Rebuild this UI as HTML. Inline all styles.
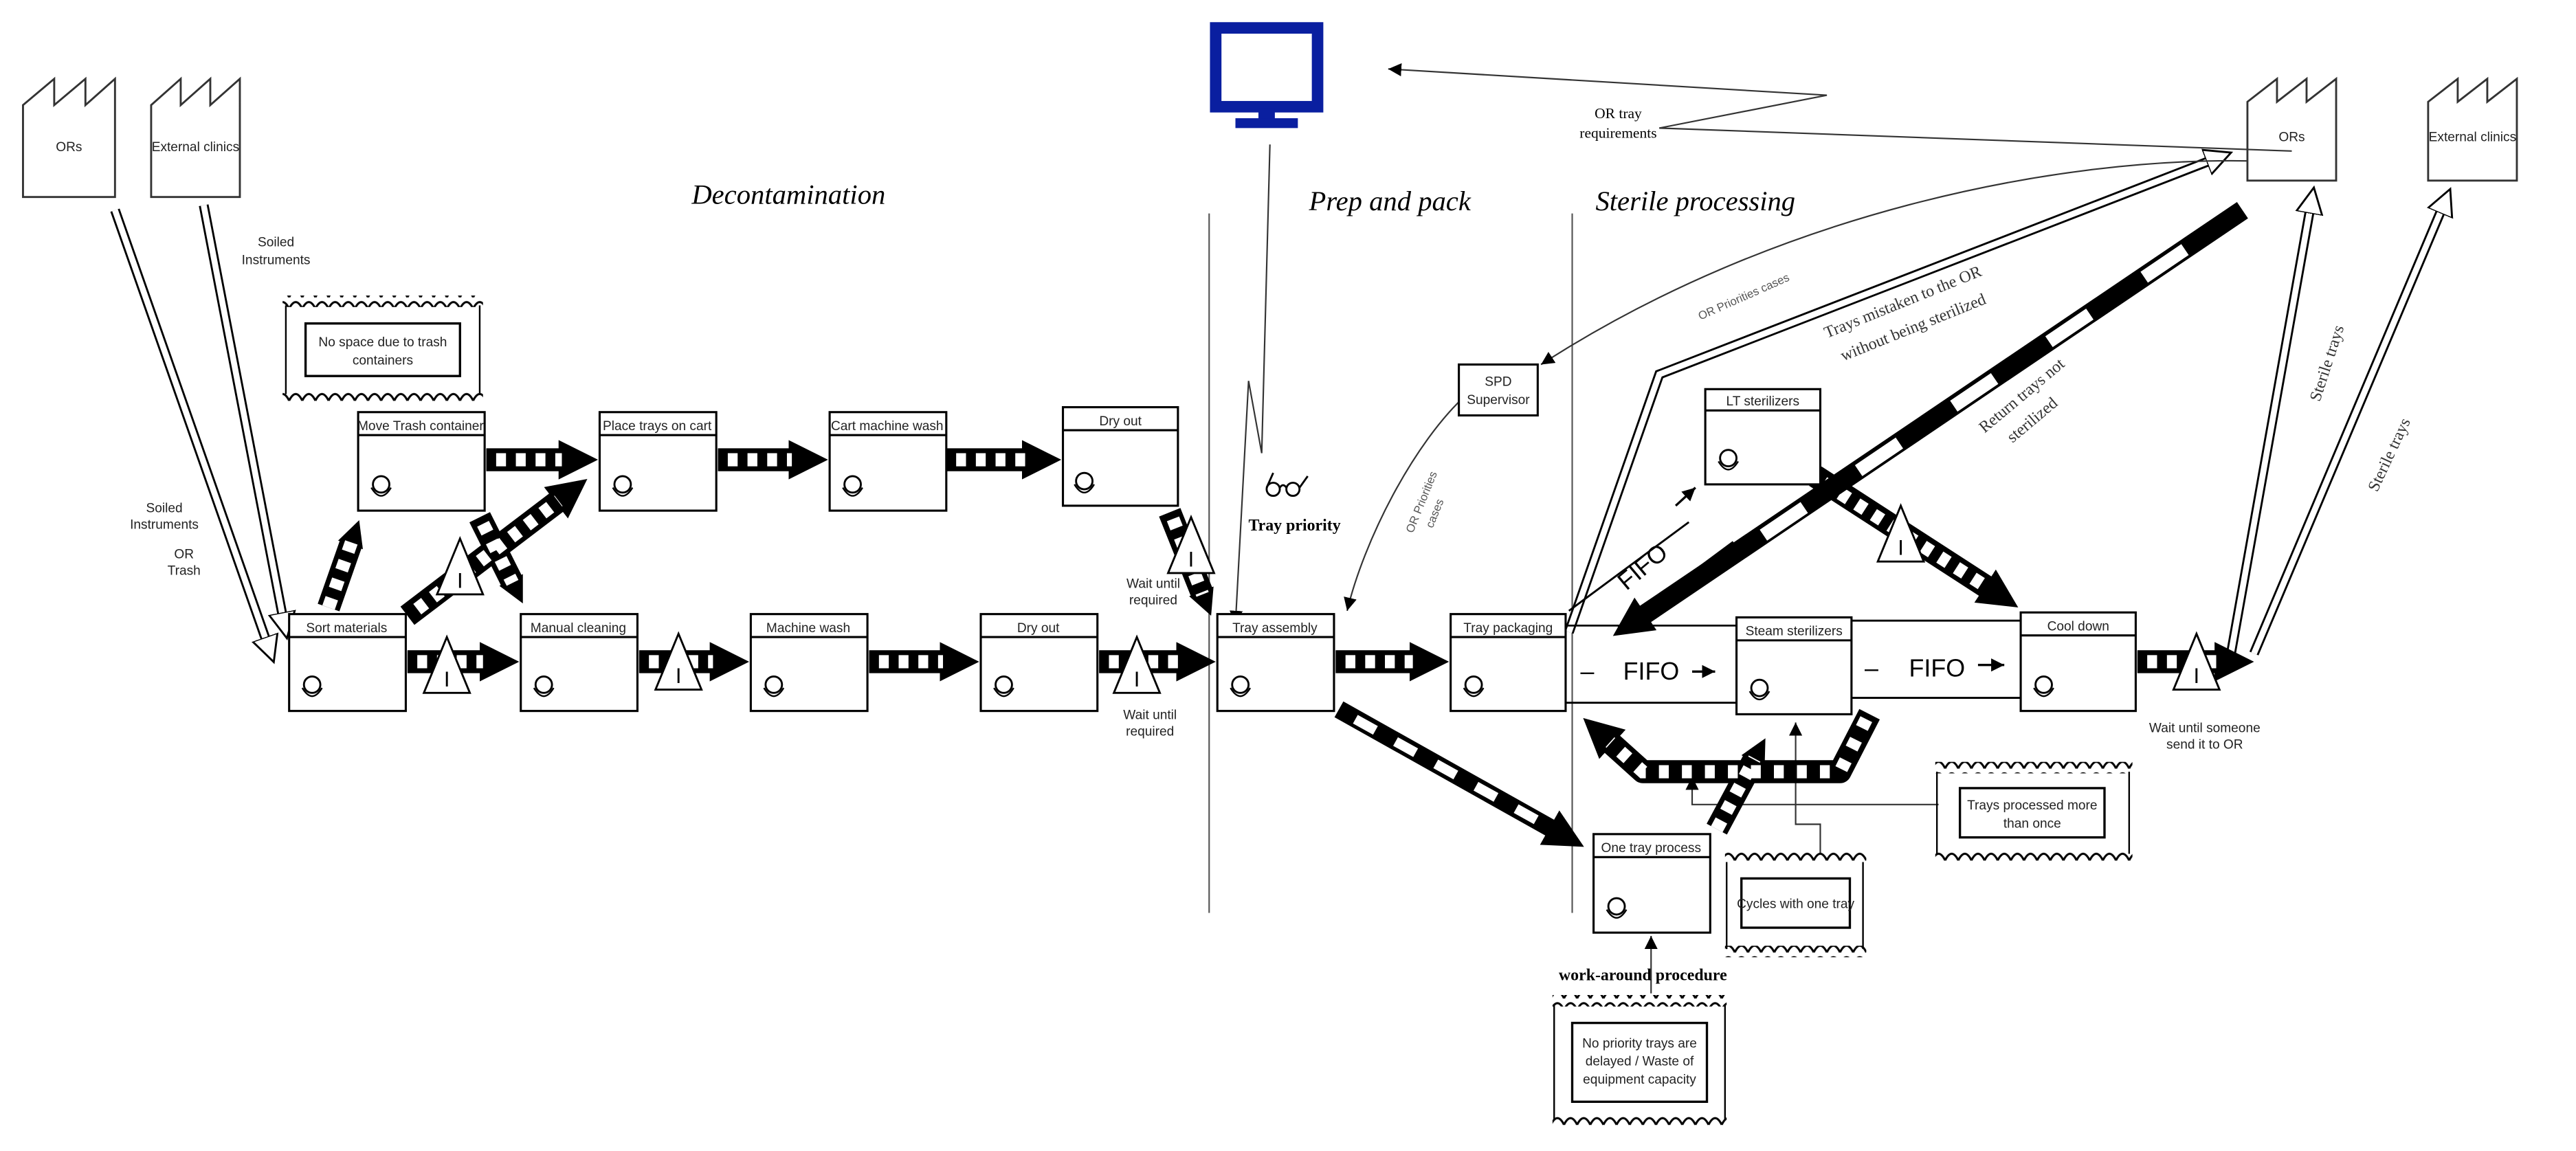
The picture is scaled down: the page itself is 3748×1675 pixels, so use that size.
<!DOCTYPE html>
<html><head><meta charset="utf-8"><style>
html,body{margin:0;padding:0;background:#fff;}
svg{display:block;}
text{font-family:"Liberation Sans",sans-serif;}
.t{font-size:8px;text-anchor:middle;fill:#222;}
.s{font-family:"Liberation Serif",serif;}
</style></head><body>
<svg width="3748" height="1675" viewBox="0 0 1568 701" preserveAspectRatio="none" xmlns="http://www.w3.org/2000/svg">
<defs>
<marker id="h" markerUnits="userSpaceOnUse" markerWidth="30" markerHeight="30" refX="2" refY="12" orient="auto"><path d="M0,0 L24,12 L0,24 Z" fill="#000"/></marker>
<marker id="hs" markerUnits="userSpaceOnUse" markerWidth="20" markerHeight="20" refX="2" refY="8" orient="auto"><path d="M0,0 L16,8 L0,16 Z" fill="#000"/></marker>
<marker id="ht" markerUnits="userSpaceOnUse" markerWidth="12" markerHeight="12" refX="8" refY="4" orient="auto"><path d="M0,0 L8,4 L0,8 Z" fill="#000"/></marker>
<marker id="hh" markerUnits="userSpaceOnUse" markerWidth="24" markerHeight="24" refX="2" refY="9" orient="auto"><path d="M0,1 L16,9 L0,17 Z" fill="#fff" stroke="#000" stroke-width="1.2"/></marker>
<pattern id="wv" width="8" height="7" patternUnits="userSpaceOnUse"><path d="M0,6 Q4,-2 8,6" fill="none" stroke="#000" stroke-width="1.3"/></pattern>
<pattern id="wv2" width="8" height="7" patternUnits="userSpaceOnUse"><path d="M0,1 Q4,9 8,1" fill="none" stroke="#000" stroke-width="1.3"/></pattern>
</defs>

<!-- factories -->
<g fill="#fff" stroke="#333" stroke-width="1.2">
<path d="M14,120 V64 L33,48 V64 L52,48 V64 L70,48 V120 Z"/>
<path d="M92,120 V64 L110,48 V64 L128,48 V64 L146,48 V120 Z"/>
<path d="M1368,110 V62 L1386,48 V62 L1404,48 V62 L1422,48 V110 Z"/>
<path d="M1478,110 V62 L1496,48 V62 L1514,48 V62 L1532,48 V110 Z"/>
</g>
<text class="t" x="42" y="92" font-size="7">ORs</text>
<text class="t" x="119" y="92" font-size="7">External clinics</text>
<text class="t" x="1395" y="86" font-size="7">ORs</text>
<text class="t" x="1505" y="86" font-size="7">External clinics</text>

<!-- monitor -->
<rect x="740" y="17" width="62" height="48" fill="none" stroke="#0a1fa0" stroke-width="7"/>
<rect x="766" y="66" width="10" height="8" fill="#0a1fa0"/>
<rect x="752" y="72" width="38" height="6" fill="#0a1fa0"/>

<!-- section labels -->
<text class="s" x="480" y="124" font-size="17" font-style="italic" text-anchor="middle">Decontamination</text>
<text class="s" x="846" y="128" font-size="17" font-style="italic" text-anchor="middle">Prep and pack</text>
<text class="s" x="1032" y="128" font-size="17" font-style="italic" text-anchor="middle">Sterile processing</text>
<line x1="736" y1="130" x2="736" y2="556" stroke="#555" stroke-width="0.9"/>
<line x1="957" y1="130" x2="957" y2="556" stroke="#555" stroke-width="0.9"/>

<!-- hollow arrows -->
<g fill="none" stroke-linecap="butt">
<g stroke="#000" stroke-width="6"><line x1="70" y1="128" x2="162" y2="390"/><line x1="124" y1="125" x2="172" y2="375"/>
<polyline points="955,385 1010,228 1345,98"/><line x1="1358" y1="398" x2="1406" y2="128"/><line x1="1372" y1="398" x2="1486" y2="128"/></g>
<g stroke="#fff" stroke-width="3.6"><line x1="70" y1="128" x2="162" y2="390" marker-end="url(#hh)"/><line x1="124" y1="125" x2="172" y2="375" marker-end="url(#hh)"/>
<polyline points="955,385 1010,228 1345,98" marker-end="url(#hh)"/><line x1="1358" y1="398" x2="1406" y2="128" marker-end="url(#hh)"/><line x1="1372" y1="398" x2="1486" y2="128" marker-end="url(#hh)"/></g>
</g>

<!-- thin info lines -->
<g fill="none" stroke="#333" stroke-width="0.9">
<polyline points="1395,92 1010,78 1112,58 845,42" marker-end="url(#ht)"/>
<polyline points="773,88 768,276 760,232 752,380" marker-end="url(#ht)"/>
<path d="M1368,98 C1250,96 1080,130 938,222" marker-end="url(#ht)"/>
<path d="M893,240 C860,270 830,330 820,372" marker-end="url(#ht)"/>
<polyline points="1180,490 1030,490 1030,473" marker-end="url(#ht)"/>
<polyline points="1108,520 1108,502 1093,502 1093,440" marker-end="url(#ht)"/>
<line x1="1005" y1="605" x2="1005" y2="570" marker-end="url(#ht)"/>
</g>
<text class="s" x="985" y="72" font-size="9" text-anchor="middle">OR tray</text>
<text class="s" x="985" y="84" font-size="9" text-anchor="middle">requirements</text>
<text x="1035" y="195" font-size="7" fill="#555" transform="rotate(-24 1035 195)">OR Priorities cases</text>
<text x="860" y="325" font-size="7" fill="#555" transform="rotate(-68 860 325)">OR Priorities</text>
<text x="872" y="322" font-size="7" fill="#555" transform="rotate(-68 872 322)">cases</text>
<text class="s" x="1112" y="206" font-size="10" fill="#333" transform="rotate(-22 1112 206)">Trays mistaken to the OR</text>
<text class="s" x="1122" y="220" font-size="10" fill="#333" transform="rotate(-22 1122 220)">without being sterilized</text>
<text class="s" x="1208" y="264" font-size="10" fill="#333" transform="rotate(-40 1208 264)">Return trays not</text>
<text class="s" x="1225" y="270" font-size="10" fill="#333" transform="rotate(-40 1225 270)">sterilized</text>
<text class="s" x="1412" y="245" font-size="10" fill="#333" transform="rotate(-72 1412 245)">Sterile trays</text>
<text class="s" x="1447" y="300" font-size="10" fill="#333" transform="rotate(-65 1447 300)">Sterile trays</text>

<!-- glasses -->
<g fill="none" stroke="#000" stroke-width="1.2"><circle cx="775" cy="298" r="4"/><circle cx="787" cy="298" r="4"/><path d="M779,297 Q781,294 783,297 M771,297 L775,288 M791,297 L796,290"/></g>
<text class="s" x="788" y="323" font-size="10" font-weight="bold" text-anchor="middle">Tray priority</text>

<text class="t" x="168" y="150" font-size="7">Soiled</text>
<text class="t" x="168" y="161" font-size="7">Instruments</text>
<text class="t" x="100" y="312" font-size="7">Soiled</text>
<text class="t" x="100" y="322" font-size="7">Instruments</text>
<text class="t" x="112" y="340" font-size="7">OR</text>
<text class="t" x="112" y="350" font-size="7">Trash</text>
<text class="t" x="702" y="358" font-size="7">Wait until</text>
<text class="t" x="702" y="368" font-size="7">required</text>
<text class="t" x="700" y="438" font-size="7">Wait until</text>
<text class="t" x="700" y="448" font-size="7">required</text>
<text class="t" x="1342" y="446" font-size="7">Wait until someone</text>
<text class="t" x="1342" y="456" font-size="7">send it to OR</text>
<text class="s" x="1000" y="597" font-size="10" font-weight="bold" text-anchor="middle">work-around procedure</text>

<!-- push arrows (striped) -->
<g fill="none">
<g stroke="#000" stroke-width="14">
<line x1="296" y1="280" x2="342" y2="280" marker-end="url(#h)"/><line x1="437" y1="280" x2="482" y2="280" marker-end="url(#h)"/><line x1="576" y1="280" x2="624" y2="280" marker-end="url(#h)"/>
<line x1="248" y1="403" x2="294" y2="403" marker-end="url(#h)"/><line x1="389" y1="403" x2="434" y2="403" marker-end="url(#h)"/><line x1="529" y1="403" x2="574" y2="403" marker-end="url(#h)"/><line x1="669" y1="403" x2="718" y2="403" marker-end="url(#h)"/><line x1="813" y1="403" x2="860" y2="403" marker-end="url(#h)"/>
<line x1="1301" y1="403" x2="1350" y2="403" marker-end="url(#h)"/>
<line x1="200" y1="370" x2="214" y2="330" marker-end="url(#hs)"/>
<line x1="248" y1="375" x2="340" y2="305" marker-end="url(#h)"/>
<line x1="292" y1="315" x2="312" y2="355" marker-end="url(#hs)"/>
<line x1="712" y1="312" x2="732" y2="362" marker-end="url(#hs)"/>
<line x1="1105" y1="290" x2="1210" y2="358" marker-end="url(#h)"/>
<line x1="1045" y1="505" x2="1068" y2="462" marker-end="url(#hs)"/>
<polyline points="1138,435 1120,470 1000,470 980,452" stroke-linejoin="round" marker-end="url(#h)"/>
</g>
<g stroke="#fff" stroke-width="8" stroke-dasharray="6 6">
<line x1="302" y1="280" x2="342" y2="280"/><line x1="443" y1="280" x2="482" y2="280"/><line x1="582" y1="280" x2="624" y2="280"/>
<line x1="254" y1="403" x2="294" y2="403"/><line x1="395" y1="403" x2="434" y2="403"/><line x1="535" y1="403" x2="574" y2="403"/><line x1="675" y1="403" x2="718" y2="403"/><line x1="819" y1="403" x2="860" y2="403"/>
<line x1="1307" y1="403" x2="1350" y2="403"/>
<line x1="200" y1="370" x2="214" y2="330"/><line x1="254" y1="371" x2="340" y2="305"/><line x1="294" y1="319" x2="312" y2="355"/><line x1="714" y1="316" x2="732" y2="362"/>
<line x1="1110" y1="294" x2="1210" y2="358"/><line x1="1045" y1="505" x2="1068" y2="462"/>
<polyline points="1136,438 1120,470 1000,470 980,452" stroke-dasharray="6 8"/>
</g>
<!-- long black/white arrows -->
<line x1="1365" y1="128" x2="1000" y2="375" stroke="#000" stroke-width="12" marker-end="url(#h)"/>
<line x1="1330" y1="152" x2="1060" y2="335" stroke="#fff" stroke-width="8" stroke-dasharray="30 40"/>
<line x1="815" y1="432" x2="945" y2="505" stroke="#000" stroke-width="11" marker-end="url(#h)"/>
<line x1="825" y1="438" x2="940" y2="502" stroke="#fff" stroke-width="6" stroke-dasharray="14 14"/>
</g>

<!-- inventory triangles -->
<g fill="#fff" stroke="#000" stroke-width="1.2">
<path d="M272,388 L258,422 L286,422 Z"/><path d="M413,386 L399,420 L427,420 Z"/><path d="M692,388 L678,422 L706,422 Z"/>
<path d="M280,328 L266,362 L294,362 Z"/><path d="M725,315 L711,349 L739,349 Z"/><path d="M1157,308 L1143,342 L1171,342 Z"/>
<path d="M1337,386 L1323,420 L1351,420 Z"/>
</g>
<g class="s" font-size="13" text-anchor="middle">
<text x="272" y="418">I</text><text x="413" y="416">I</text><text x="692" y="418">I</text><text x="280" y="358">I</text><text x="725" y="345">I</text><text x="1157" y="338">I</text><text x="1337" y="416">I</text>
</g>

<!-- FIFO lanes -->
<g stroke="#000" stroke-width="1.2">
<line x1="953" y1="381" x2="1057" y2="381"/><line x1="953" y1="428" x2="1057" y2="428"/>
<line x1="1127" y1="378" x2="1230" y2="378"/><line x1="1127" y1="425" x2="1230" y2="425"/>
<line x1="955" y1="372" x2="1028" y2="318"/><line x1="985" y1="382" x2="1055" y2="330"/>
</g>
<g font-size="15" fill="#000">
<text x="962" y="414">–</text><text x="988" y="414">FIFO</text>
<text x="1135" y="412">–</text><text x="1162" y="412">FIFO</text>
<text x="990" y="360" transform="rotate(-40 990 360)">FIFO</text>
</g>
<g stroke="#000" stroke-width="1.4" fill="none"><line x1="1030" y1="409" x2="1044" y2="409" marker-end="url(#ht)"/><line x1="1204" y1="405" x2="1220" y2="405" marker-end="url(#ht)"/><line x1="1020" y1="308" x2="1032" y2="297" marker-end="url(#ht)"/></g>

<!-- process boxes -->
<g fill="#fff" stroke="#000" stroke-width="1.3">
<rect x="218" y="251" width="77" height="60"/><rect x="365" y="251" width="71" height="60"/><rect x="505" y="251" width="71" height="60"/><rect x="647" y="248" width="70" height="60"/>
<rect x="176" y="374" width="71" height="59"/><rect x="317" y="374" width="71" height="59"/><rect x="457" y="374" width="71" height="59"/><rect x="597" y="374" width="71" height="59"/>
<rect x="741" y="374" width="71" height="59"/><rect x="883" y="374" width="70" height="59"/><rect x="1057" y="376" width="70" height="59"/><rect x="1230" y="373" width="70" height="60"/>
<rect x="1038" y="237" width="70" height="58"/><rect x="970" y="508" width="71" height="60"/>
<rect x="888" y="222" width="48" height="31"/>
</g>
<g stroke="#000" stroke-width="1.3">
<line x1="218" y1="265" x2="295" y2="265"/><line x1="365" y1="265" x2="436" y2="265"/><line x1="505" y1="265" x2="576" y2="265"/><line x1="647" y1="262" x2="717" y2="262"/>
<line x1="176" y1="388" x2="247" y2="388"/><line x1="317" y1="388" x2="388" y2="388"/><line x1="457" y1="388" x2="528" y2="388"/><line x1="597" y1="388" x2="668" y2="388"/>
<line x1="741" y1="388" x2="812" y2="388"/><line x1="883" y1="388" x2="953" y2="388"/><line x1="1057" y1="390" x2="1127" y2="390"/><line x1="1230" y1="387" x2="1300" y2="387"/>
<line x1="1038" y1="250" x2="1108" y2="250"/><line x1="970" y1="522" x2="1041" y2="522"/>
</g>
<g class="t" font-size="7.5">
<text x="256" y="262">Move Trash container</text><text x="400" y="262">Place trays on cart</text><text x="540" y="262">Cart machine wash</text><text x="682" y="259">Dry out</text>
<text x="211" y="385">Sort materials</text><text x="352" y="385">Manual cleaning</text><text x="492" y="385">Machine wash</text><text x="632" y="385">Dry out</text>
<text x="776" y="385">Tray assembly</text><text x="918" y="385">Tray packaging</text><text x="1092" y="387">Steam sterilizers</text><text x="1265" y="384">Cool down</text>
<text x="1073" y="247">LT sterilizers</text><text x="1005" y="519">One tray process</text>
<text x="912" y="235">SPD</text><text x="912" y="246">Supervisor</text>
</g>
<g fill="none" stroke="#000" stroke-width="1.2">
<circle cx="232" cy="295" r="5"/><circle cx="379" cy="295" r="5"/><circle cx="519" cy="295" r="5"/><circle cx="660" cy="293" r="5"/>
<circle cx="190" cy="417" r="5"/><circle cx="331" cy="417" r="5"/><circle cx="471" cy="417" r="5"/><circle cx="611" cy="417" r="5"/>
<circle cx="755" cy="417" r="5"/><circle cx="897" cy="417" r="5"/><circle cx="1071" cy="419" r="5"/><circle cx="1244" cy="417" r="5"/>
<circle cx="1052" cy="279" r="5"/><circle cx="984" cy="552" r="5"/>
</g>
<g fill="none" stroke="#000" stroke-width="1">
<path d="M226,297 Q232,307 238,297"/><path d="M373,297 Q379,307 385,297"/><path d="M513,297 Q519,307 525,297"/><path d="M654,295 Q660,305 666,295"/>
<path d="M184,419 Q190,429 196,419"/><path d="M325,419 Q331,429 337,419"/><path d="M465,419 Q471,429 477,419"/><path d="M605,419 Q611,429 617,419"/>
<path d="M749,419 Q755,429 761,419"/><path d="M891,419 Q897,429 903,419"/><path d="M1065,421 Q1071,431 1077,421"/><path d="M1238,419 Q1244,429 1250,419"/>
<path d="M1046,281 Q1052,291 1058,281"/><path d="M978,554 Q984,564 990,554"/>
</g>

<!-- kaizen bursts -->
<g fill="#fff" stroke="#000" stroke-width="1">
<rect x="173" y="186" width="120" height="56" stroke="none"/>
<line x1="174" y1="186" x2="174" y2="240"/><line x1="292" y1="186" x2="292" y2="240"/>
<rect x="186" y="197" width="94" height="32" stroke-width="1.4"/>
<line x1="1179" y1="470" x2="1179" y2="520"/><line x1="1296" y1="470" x2="1296" y2="520"/>
<rect x="1193" y="480" width="88" height="30" stroke-width="1.4"/>
<line x1="1051" y1="525" x2="1051" y2="578"/><line x1="1134" y1="525" x2="1134" y2="578"/>
<rect x="1060" y="535" width="66" height="30" stroke-width="1.4"/>
<line x1="946" y1="612" x2="946" y2="682"/><line x1="1050" y1="612" x2="1050" y2="682"/>
<rect x="957" y="623" width="82" height="48" stroke-width="1.4"/>
</g>
<g fill="url(#wv)">
<rect x="172" y="180" width="122" height="7"/>
<rect x="1178" y="464" width="120" height="7"/>
<rect x="1050" y="519" width="86" height="7"/>
<rect x="945" y="606" width="106" height="7"/>
</g>
<g fill="url(#wv)">
<rect x="172" y="238" width="122" height="7"/>
<rect x="1178" y="518" width="120" height="7"/>
<rect x="1050" y="576" width="86" height="7"/>
<rect x="945" y="680" width="106" height="7"/>
</g>
<g class="t" font-size="7.5">
<text x="233" y="211">No space due to trash</text><text x="233" y="222">containers</text>
<text x="1237" y="493">Trays processed more</text><text x="1237" y="504">than once</text>
<text x="1093" y="553">Cycles with one tray</text>
<text x="998" y="638">No priority trays are</text><text x="998" y="649">delayed / Waste of</text><text x="998" y="660">equipment  capacity</text>
</g>
</svg>
</body></html>
